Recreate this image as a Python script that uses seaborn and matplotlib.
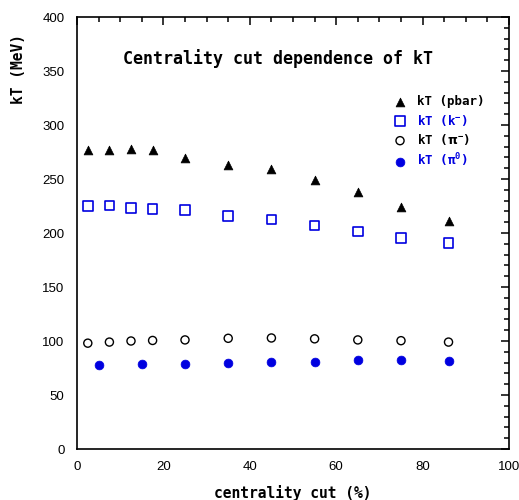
import numpy as np
import pandas as pd
import matplotlib
matplotlib.use("Agg")
import matplotlib.pyplot as plt
import seaborn as sns
from matplotlib.ticker import MultipleLocator

# centrality bins (%)
cent = [2.5, 7.5, 12.5, 17.5, 25, 35, 45, 55, 65, 75, 86]
cent_pi0 = [5, 15, 25, 35, 45, 55, 65, 75, 86]

kt_pbar = [277, 277, 278, 277, 269, 263, 259, 249, 238, 224, 211]
kt_kminus = [225, 225.5, 223, 222.5, 221.5, 215.5, 212.5, 207, 201.5, 195.5, 190.5]
kt_piminus = [98, 99, 100, 100.5, 101, 102.5, 102.8, 102, 101, 100.3, 99]
kt_pi0 = [77.5, 78.4, 79, 79.6, 80.5, 80.5, 82.7, 82.7, 81.8]

BLUE = "#0000e0"
MONO = "DejaVu Sans Mono"

sns.set_style("white")
plt.rcParams['font.family'] = ['Liberation Sans', 'DejaVu Sans']
plt.rcParams['text.color'] = 'black'
plt.rcParams['axes.labelcolor'] = 'black'
plt.rcParams['xtick.color'] = 'black'
plt.rcParams['ytick.color'] = 'black'
plt.rcParams['mathtext.default'] = 'regular'

fig = plt.figure(figsize=(5.19, 5.00), dpi=100)
ax = fig.add_axes([77 / 519, 1 - 449 / 500, 432 / 519, 432 / 500])

df_pbar = pd.DataFrame({'cent': cent, 'kT': kt_pbar})
df_k = pd.DataFrame({'cent': cent, 'kT': kt_kminus})
df_pim = pd.DataFrame({'cent': cent, 'kT': kt_piminus})
df_pi0 = pd.DataFrame({'cent': cent_pi0, 'kT': kt_pi0})

sns.scatterplot(data=df_pbar, x='cent', y='kT', ax=ax, marker='^', s=40,
                color='black', edgecolor='black', label='kT (pbar)')
sns.scatterplot(data=df_k, x='cent', y='kT', ax=ax, marker='s', s=48,
                facecolor='none', edgecolor=BLUE, linewidth=1.2, label='kT (k$^{-}$)')
sns.scatterplot(data=df_pim, x='cent', y='kT', ax=ax, marker='o', s=34,
                facecolor='none', edgecolor='black', linewidth=1.0, label=r'kT ($\mathbf{\pi}^{-}$)')
sns.scatterplot(data=df_pi0, x='cent', y='kT', ax=ax, marker='o', s=40,
                color=BLUE, edgecolor=BLUE, label=r'kT ($\pi^{0}$)')

ax.set_xlim(0, 100)
ax.set_ylim(0, 400)
ax.xaxis.set_major_locator(MultipleLocator(20))
ax.xaxis.set_minor_locator(MultipleLocator(5))
ax.yaxis.set_major_locator(MultipleLocator(50))
ax.yaxis.set_minor_locator(MultipleLocator(10))
ax.tick_params(which='both', direction='in', top=True, right=True, labelsize=9.5, width=1.1)
ax.tick_params(which='major', length=6)
ax.tick_params(which='minor', length=3.5)
ax.tick_params(axis='x', which='major', pad=9)
ax.tick_params(axis='y', which='major', pad=9)
for s in ax.spines.values():
    s.set_linewidth(1.2)
    s.set_color('black')

ax.set_xlabel('centrality cut (%)', family=MONO, fontweight='bold', fontsize=10.5, labelpad=8)
ax.set_ylabel('kT (MeV)', family=MONO, fontweight='bold', fontsize=10.5)
ax.yaxis.set_label_coords(-0.118, 0.88)

ax.text(46.5, 362, 'Centrality cut dependence of kT', family=MONO, fontweight='bold',
        fontsize=12, ha='center', va='center')

leg = ax.legend(loc='upper left', bbox_to_anchor=(0.70, 0.845), frameon=False,
                prop={'family': MONO, 'weight': 'bold', 'size': 9},
                handletextpad=0.6, labelspacing=0.35, handlelength=1.5,
                labelcolor=['black', BLUE, 'black', BLUE])

fig.savefig('out.png', dpi=100)
